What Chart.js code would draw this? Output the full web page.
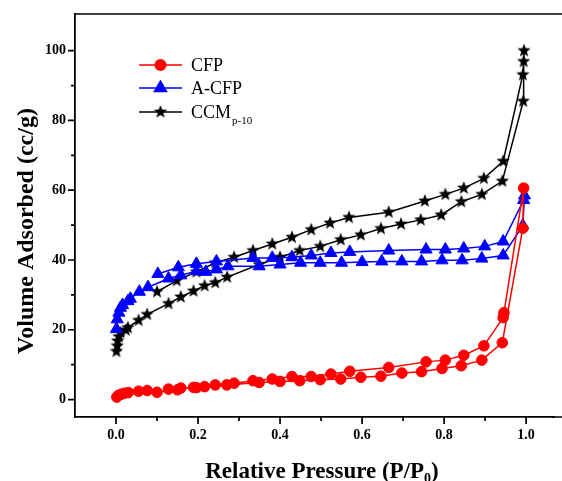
<!DOCTYPE html>
<html>
<head>
<meta charset="utf-8">
<script src="https://cdn.jsdelivr.net/npm/chart.js@4.4.0/dist/chart.umd.min.js"></script>
<style>
  html, body { margin: 0; padding: 0; background: #fff; }
  #wrap { width: 562px; height: 481px; }
</style>
</head>
<body>
<div id="wrap"><canvas id="bet" width="562" height="481"></canvas></div>
<script>
// N2 isotherms: relative pressure (P/P0) and volume adsorbed (cc/g),
// adsorption branch first, then desorption branch back down
const cfpP = [0.002, 0.006, 0.012, 0.02, 0.03, 0.055, 0.076, 0.1, 0.15, 0.189, 0.242, 0.27, 0.349, 0.4, 0.448, 0.498, 0.548, 0.597, 0.646, 0.697, 0.745, 0.795, 0.842, 0.892, 0.942, 0.992, 0.994,
              0.946, 0.944, 0.897, 0.848, 0.803, 0.756, 0.665, 0.57, 0.524, 0.476, 0.429, 0.381, 0.334, 0.288, 0.216, 0.196, 0.158, 0.128];
const cfpV = [0.7, 1.2, 1.5, 1.8, 2.0, 2.4, 2.6, 2.1, 2.8, 3.5, 4.2, 4.2, 4.9, 5.2, 5.4, 5.7, 5.9, 6.4, 6.7, 7.6, 8.0, 8.9, 9.7, 11.3, 16.3, 49.1, 60.6,
              24.9, 23.5, 15.4, 12.7, 11.3, 10.8, 9.2, 8.1, 7.3, 6.6, 6.6, 5.9, 5.4, 4.7, 3.7, 3.4, 3.3, 3.0];

const acfpP = [0.001, 0.003, 0.007, 0.011, 0.016, 0.029, 0.035, 0.057, 0.078, 0.128, 0.158, 0.196, 0.219, 0.245, 0.273, 0.349, 0.4, 0.45, 0.498, 0.55, 0.6, 0.648, 0.697, 0.745, 0.795, 0.844, 0.892, 0.944, 0.992, 0.996,
               0.994, 0.944, 0.899, 0.848, 0.803, 0.756, 0.665, 0.57, 0.524, 0.476, 0.429, 0.381, 0.334, 0.245, 0.196, 0.152, 0.102];
const acfpV = [20.2, 23.0, 24.9, 26.3, 27.1, 28.2, 28.9, 30.9, 32.2, 34.7, 35.6, 36.8, 36.6, 37.3, 38.2, 38.2, 38.7, 39.2, 39.2, 39.2, 39.4, 39.6, 39.6, 39.6, 39.9, 39.9, 40.4, 41.3, 49.9, 58.5,
               57.2, 45.3, 43.9, 43.3, 43.0, 43.0, 42.7, 42.3, 42.0, 41.3, 40.8, 40.6, 40.6, 39.6, 38.9, 37.9, 36.0];

const ccmP = [0.001, 0.003, 0.004, 0.007, 0.011, 0.024, 0.029, 0.055, 0.076, 0.128, 0.158, 0.189, 0.216, 0.242, 0.271, 0.349, 0.4, 0.448, 0.498, 0.548, 0.597, 0.646, 0.695, 0.743, 0.793, 0.842, 0.892, 0.942, 0.993, 0.994, 0.995,
              0.992, 0.944, 0.897, 0.848, 0.803, 0.753, 0.665, 0.568, 0.522, 0.476, 0.429, 0.381, 0.334, 0.288, 0.242, 0.196, 0.148, 0.1];
const ccmV = [13.8, 15.4, 16.8, 18.0, 19.2, 19.9, 20.6, 22.7, 24.4, 27.5, 29.4, 31.1, 32.6, 33.5, 35.1, 38.7, 40.8, 42.7, 43.9, 45.8, 47.2, 49.0, 50.3, 51.5, 52.9, 56.7, 58.8, 62.6, 85.5, 96.9, 100,
              93.1, 68.3, 63.4, 60.6, 58.8, 56.9, 53.7, 52.2, 50.6, 48.7, 46.5, 44.6, 42.7, 40.8, 39.2, 36.6, 34.1, 30.9];

const seriesNames = ['CFP', 'A-CFP', 'CCM'];
const xTicks = [0.0, 0.2, 0.4, 0.6, 0.8, 1.0];
const xMinor = [0.1, 0.3, 0.5, 0.7, 0.9];
const yTicks = [0, 20, 40, 60, 80, 100];
const yMinor = [10, 30, 50, 70, 90];

const FONT = "'Liberation Serif', 'Times New Roman', serif";

function toXY(px, py) {
    return px.map((p, i) => ({ x: p, y: py[i] }));
}

// filled five-point star, chart.js only has an asterisk-like 'star'
function starImage(r, color) {
    const c = document.createElement('canvas');
    const s = Math.ceil(r * 2 + 2);
    c.width = s;
    c.height = s;
    const g = c.getContext('2d');
    g.fillStyle = color;
    g.beginPath();
    for (let i = 0; i < 10; i++) {
        const rad = i % 2 ? r * 0.42 : r;
        const a = -Math.PI / 2 + i * Math.PI / 5;
        g.lineTo(s / 2 + rad * Math.cos(a), s / 2 + rad * Math.sin(a));
    }
    g.closePath();
    g.fill();
    return c;
}
const star = starImage(7, '#000');

const styles = [
    { color: '#ff0000', pointStyle: 'circle', radius: 5.3 },
    { color: '#0000ff', pointStyle: 'triangle', radius: 7 },
    { color: '#000000', pointStyle: star, radius: 7 }
];
const data = [toXY(cfpP, cfpV), toXY(acfpP, acfpV), toXY(ccmP, ccmV)];

// axis frame, minor ticks, titles and the legend (with subscript)
const framePlugin = {
    id: 'frame',
    afterDraw(chart) {
        const { ctx, chartArea: a, scales: { x, y } } = chart;
        ctx.save();
        ctx.strokeStyle = '#000';
        ctx.lineWidth = 1.7;
        ctx.beginPath();
        // the plot box runs off the right edge of the picture
        ctx.moveTo(a.left, a.top);
        ctx.lineTo(chart.width, a.top);
        ctx.moveTo(a.right - 2, a.bottom);
        ctx.lineTo(chart.width, a.bottom);
        xTicks.forEach(v => { const p = x.getPixelForValue(v); ctx.moveTo(p, a.bottom); ctx.lineTo(p, a.bottom + 7); });
        xMinor.forEach(v => { const p = x.getPixelForValue(v); ctx.moveTo(p, a.bottom); ctx.lineTo(p, a.bottom + 4); });
        yTicks.forEach(v => { const p = y.getPixelForValue(v); ctx.moveTo(a.left, p); ctx.lineTo(a.left - 7, p); });
        yMinor.forEach(v => { const p = y.getPixelForValue(v); ctx.moveTo(a.left, p); ctx.lineTo(a.left - 4, p); });
        ctx.stroke();

        // axis titles
        ctx.fillStyle = '#000';
        ctx.font = 'bold 23px ' + FONT;
        const t1 = 'Relative Pressure (P/P';
        const w1 = ctx.measureText(t1).width;
        ctx.font = 'bold 14px ' + FONT;
        const w2 = ctx.measureText('0').width;
        ctx.font = 'bold 23px ' + FONT;
        const w3 = ctx.measureText(')').width;
        let tx = 322 - (w1 + w2 + w3) / 2;
        const ty = 478;
        ctx.textBaseline = 'alphabetic';
        ctx.textAlign = 'left';
        ctx.fillText(t1, tx, ty);
        ctx.font = 'bold 14px ' + FONT;
        ctx.fillText('0', tx + w1, ty + 5);
        ctx.font = 'bold 23px ' + FONT;
        ctx.fillText(')', tx + w1 + w2, ty);

        ctx.save();
        ctx.translate(33, 231);
        ctx.rotate(-Math.PI / 2);
        ctx.textAlign = 'center';
        ctx.font = 'bold 24px ' + FONT;
        ctx.fillText('Volume Adsorbed (cc/g)', 0, 0);
        ctx.restore();

        // legend
        const rows = [65, 88, 112];
        seriesNames.forEach((name, i) => {
            const st = styles[i];
            const ry = rows[i];
            ctx.strokeStyle = st.color;
            ctx.fillStyle = st.color;
            ctx.lineWidth = 1.5;
            ctx.beginPath();
            ctx.moveTo(139, ry);
            ctx.lineTo(182, ry);
            ctx.stroke();
            Chart.helpers.drawPoint(ctx, { pointStyle: st.pointStyle, radius: st.radius, borderWidth: 1, rotation: 0 }, 160.5, ry);
            ctx.fillStyle = '#000';
            ctx.font = '18px ' + FONT;
            ctx.textAlign = 'left';
            ctx.fillText(name, 191, ry + 6);
            if (i === 2) {
                const w = ctx.measureText(name).width;
                ctx.font = '11px ' + FONT;
                ctx.fillText('p-10', 191 + w + 1, ry + 12);
            }
        });
        ctx.restore();
    }
};

new Chart(document.getElementById('bet'), {
    type: 'scatter',
    data: {
        datasets: data.map((d, i) => ({
            label: seriesNames[i],
            data: d,
            showLine: true,
            borderColor: styles[i].color,
            backgroundColor: styles[i].color,
            borderWidth: 1.5,
            pointStyle: styles[i].pointStyle,
            pointRadius: styles[i].radius,
            pointBorderWidth: 1,
            tension: 0
        }))
    },
    options: {
        responsive: false,
        animation: false,
        layout: { padding: { top: 14, right: 0, left: 0, bottom: 0 } },
        plugins: { legend: { display: false }, tooltip: { enabled: false } },
        scales: {
            x: {
                type: 'linear',
                min: -0.1,
                max: 1.068,
                afterBuildTicks: s => { s.ticks = xTicks.map(v => ({ value: v })); },
                afterFit: s => { s.height = 64; s.paddingRight = 0; s.paddingLeft = 0; },
                grid: { display: false, drawTicks: false },
                border: { display: true, color: '#000', width: 1.8 },
                ticks: {
                    padding: 10,
                    color: '#000',
                    font: { family: FONT, weight: 'bold', size: 14 },
                    callback: v => v.toFixed(1)
                }
            },
            y: {
                min: -5,
                max: 110.5,
                afterBuildTicks: s => { s.ticks = yTicks.map(v => ({ value: v })); },
                afterFit: s => { s.width = 75; s.paddingTop = 0; s.paddingBottom = 0; },
                grid: { display: false, drawTicks: false },
                border: { display: true, color: '#000', width: 1.8 },
                ticks: {
                    padding: 9,
                    color: '#000',
                    font: { family: FONT, weight: 'bold', size: 14 },
                    callback: v => String(v)
                }
            }
        }
    },
    plugins: [framePlugin]
});
</script>
</body>
</html>
